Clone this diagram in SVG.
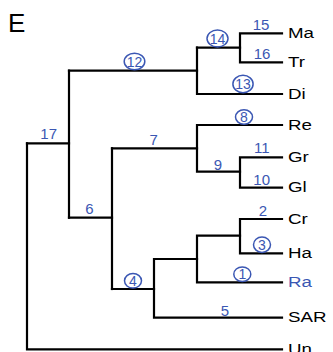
<svg xmlns="http://www.w3.org/2000/svg" width="333" height="352" viewBox="0 0 333 352">
<style>
.br{fill:none;stroke:#000;stroke-width:2.2;stroke-linecap:square;stroke-linejoin:miter}
.lf{font-family:"Liberation Sans",Arial,sans-serif;font-size:15px;fill:#000}
.lb{font-family:"Liberation Sans",Arial,sans-serif;font-size:15px;fill:#3b57b3;text-anchor:middle}
.cd{font-family:"Liberation Sans",Arial,sans-serif;font-size:14px;fill:#3b57b3;text-anchor:middle}
.ci{fill:none;stroke:#3b57b3;stroke-width:1.5}
</style>
<rect width="333" height="352" fill="#fff"/>
<text x="8" y="31.5" font-family="Liberation Sans,Arial,sans-serif" font-size="26" fill="#000">E</text>
<g id="connectors">
<path class="br" d="M27,143.3 V349.3 H282"/>
<path class="br" d="M27,143.3 H69"/>
<path class="br" d="M69,70.7 V217.7"/>
<path class="br" d="M69,70.7 H197"/>
<path class="br" d="M197,47.7 V94 H282"/>
<path class="br" d="M197,47.7 H240"/>
<path class="br" d="M282,33.3 H240 V62.3 H282"/>
<path class="br" d="M69,217.7 H112"/>
<path class="br" d="M112,148.3 V289"/>
<path class="br" d="M112,148.3 H197"/>
<path class="br" d="M282,125 H197 V171.7 H240"/>
<path class="br" d="M282,157.3 H240 V187.7 H282"/>
<path class="br" d="M112,289 H154"/>
<path class="br" d="M197,259 H154 V317.7 H282"/>
<path class="br" d="M240,235.7 H197 V282.3 H282"/>
<path class="br" d="M282,219 H240 V253.3 H282"/>
</g>
<g id="leaf-Ma"><text class="lf" transform="translate(288,38) scale(1.25,1)">Ma</text></g>
<g id="leaf-Tr"><text class="lf" transform="translate(288,67) scale(1.25,1)">Tr</text></g>
<g id="leaf-Di"><text class="lf" transform="translate(288,98.7) scale(1.25,1)">Di</text></g>
<g id="leaf-Re"><text class="lf" transform="translate(288,129.7) scale(1.25,1)">Re</text></g>
<g id="leaf-Gr"><text class="lf" transform="translate(288,162) scale(1.25,1)">Gr</text></g>
<g id="leaf-Gl"><text class="lf" transform="translate(288,192.4) scale(1.25,1)">Gl</text></g>
<g id="leaf-Cr"><text class="lf" transform="translate(288,223.7) scale(1.25,1)">Cr</text></g>
<g id="leaf-Ha"><text class="lf" transform="translate(288,258) scale(1.25,1)">Ha</text></g>
<g id="leaf-Ra"><text class="lf" style="fill:#3b57b3" transform="translate(288,287) scale(1.25,1)">Ra</text></g>
<g id="leaf-SAR"><text class="lf" transform="translate(288,322.4) scale(1.25,1)">SAR</text></g>
<g id="leaf-Un"><text class="lf" transform="translate(288,353.5) scale(1.25,1)">Un</text></g>
<g id="n15"><text class="lb" x="261" y="30">15</text></g>
<g id="n16"><text class="lb" x="262" y="59">16</text></g>
<g id="n17"><text class="lb" x="48.7" y="139.3">17</text></g>
<g id="n7"><text class="lb" x="153.7" y="145">7</text></g>
<g id="n6"><text class="lb" x="89.5" y="214">6</text></g>
<g id="n9"><text class="lb" x="218" y="170">9</text></g>
<g id="n11"><text class="lb" x="261.7" y="153.3">11</text></g>
<g id="n10"><text class="lb" x="261.7" y="185">10</text></g>
<g id="n2"><text class="lb" x="263" y="216">2</text></g>
<g id="n5"><text class="lb" x="225" y="316">5</text></g>
<g id="n12"><ellipse class="ci" cx="134.5" cy="61.5" rx="10.3" ry="8.3"/><text class="cd" x="134.5" y="66.5">12</text></g>
<g id="n14"><ellipse class="ci" cx="217.5" cy="38.5" rx="10.5" ry="8.5"/><text class="cd" x="217.5" y="43.5">14</text></g>
<g id="n13"><ellipse class="ci" cx="243" cy="84" rx="10.1" ry="8.7"/><text class="cd" x="243" y="89">13</text></g>
<g id="n8"><ellipse class="ci" cx="244" cy="117" rx="8.5" ry="7.3"/><text class="cd" x="244" y="122">8</text></g>
<g id="n3"><ellipse class="ci" cx="262" cy="244.7" rx="8.5" ry="7.7"/><text class="cd" x="262" y="249.7">3</text></g>
<g id="n1"><ellipse class="ci" cx="242.3" cy="274.2" rx="8.5" ry="7.3"/><text class="cd" x="242.3" y="279.2">1</text></g>
<g id="n4"><ellipse class="ci" cx="133" cy="280.8" rx="8.5" ry="7.3"/><text class="cd" x="133" y="285.8">4</text></g>
</svg>
